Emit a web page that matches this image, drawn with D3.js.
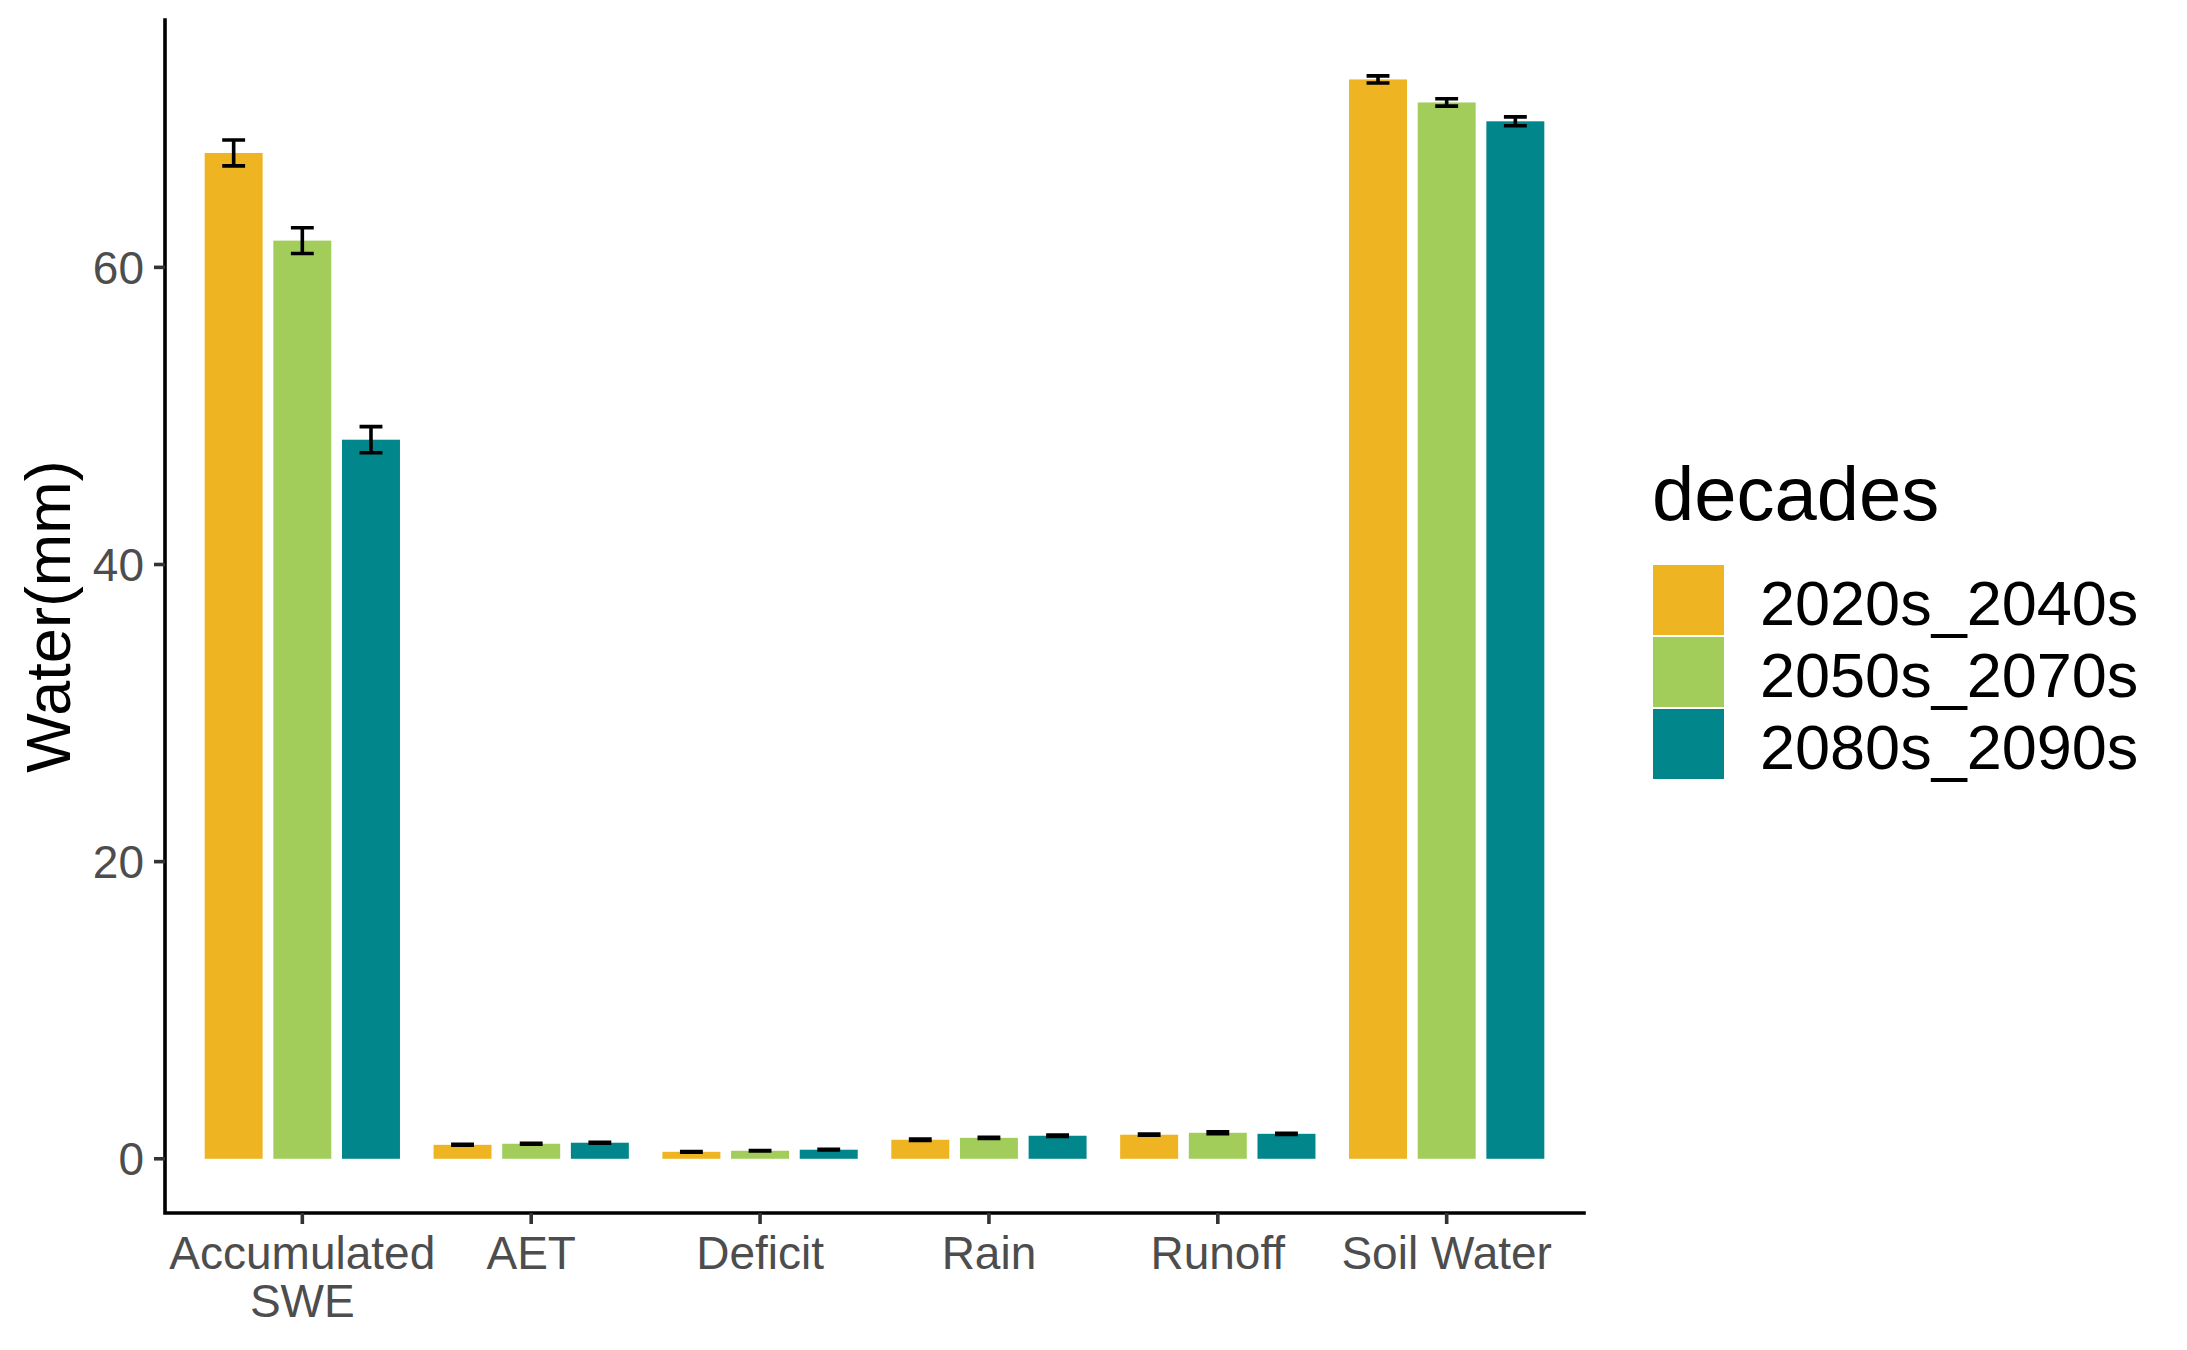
<!DOCTYPE html>
<html>
<head>
<meta charset="utf-8">
<script src="https://cdn.jsdelivr.net/npm/d3@7"></script>
<style>
  html, body { margin: 0; padding: 0; background: #ffffff; }
  svg { display: block; font-family: "Liberation Sans", Arial, sans-serif; }
</style>
</head>
<body>
<svg id="chart" width="2187" height="1350"></svg>
<script>
// ---- data ----
const categories = ["Accumulated\nSWE", "AET", "Deficit", "Rain", "Runoff", "Soil Water"];
const decades = ["2020s_2040s", "2050s_2070s", "2080s_2090s"];
const colors = ["#EEB422", "#A2CD5A", "#00868B"];
const means_2020s_2040s = [67.7, 0.94, 0.47, 1.28, 1.62, 72.65];
const means_2050s_2070s = [61.8, 1.01, 0.54, 1.41, 1.75, 71.10];
const means_2080s_2090s = [48.4, 1.08, 0.61, 1.55, 1.68, 69.83];
const err_2020s_2040s = [0.87, 0.03, 0.02, 0.04, 0.04, 0.24];
const err_2050s_2070s = [0.87, 0.03, 0.02, 0.04, 0.06, 0.25];
const err_2080s_2090s = [0.88, 0.03, 0.02, 0.04, 0.04, 0.30];
const yTicks = [0, 20, 40, 60];
const yTitle = "Water(mm)";
const legendTitle = "decades";

(function () {
const meansBy = [means_2020s_2040s, means_2050s_2070s, means_2080s_2090s];
const errsBy = [err_2020s_2040s, err_2050s_2070s, err_2080s_2090s];
const rows = [];
categories.forEach((c, ci) => {
  decades.forEach((d, di) => {
    rows.push({cat: c, dec: d, di: di, mean: meansBy[di][ci], err: errsBy[di][ci]});
  });
});

// ---- layout ----
const svg = d3.select("#chart");
const pLeft = 165, pRight = 1584, pTop = 20, pBottom = 1213;

const x = d3.scalePoint().domain(categories).range([pLeft, pRight]).padding(0.6);
const step = x.step();
const y = d3.scaleLinear().domain([-3.65, 76.65]).range([pBottom, pTop]);
const color = d3.scaleOrdinal().domain(decades).range(colors);

const dodge = 0.3 * step;
const barW = 0.2533 * step;
const capW = 0.1 * step;

// bars
svg.append("g").selectAll("rect").data(rows).join("rect")
  .attr("x", d => x(d.cat) + (d.di - 1) * dodge - barW / 2)
  .attr("width", barW)
  .attr("y", d => y(d.mean))
  .attr("height", d => y(0) - y(d.mean))
  .attr("fill", d => color(d.dec));

// error bars
const eg = svg.append("g").attr("stroke", "#000").attr("stroke-width", 3.6).attr("fill", "none");
rows.forEach(d => {
  const cx = x(d.cat) + (d.di - 1) * dodge;
  const y1 = y(d.mean + d.err), y2 = y(d.mean - d.err);
  eg.append("path").attr("d", `M${cx - capW/2},${y1}H${cx + capW/2}M${cx},${y1}V${y2}M${cx - capW/2},${y2}H${cx + capW/2}`);
});

// axes lines
svg.append("path")
  .attr("d", `M${pLeft},${pTop}V${pBottom}H${pRight}`)
  .attr("fill", "none").attr("stroke", "#000").attr("stroke-width", 3.6)
  .attr("stroke-linecap", "square");

// y ticks
const yAxis = svg.append("g");
yTicks.forEach(t => {
  yAxis.append("line").attr("x1", pLeft - 11).attr("x2", pLeft).attr("y1", y(t)).attr("y2", y(t))
    .attr("stroke", "#333333").attr("stroke-width", 3.6);
  yAxis.append("text").attr("x", pLeft - 21).attr("y", y(t) + 16.5)
    .attr("text-anchor", "end").attr("font-size", 46).attr("fill", "#4D4D4D").text(t);
});

// x ticks
const xAxis = svg.append("g");
categories.forEach(c => {
  xAxis.append("line").attr("x1", x(c)).attr("x2", x(c)).attr("y1", pBottom).attr("y2", pBottom + 11)
    .attr("stroke", "#333333").attr("stroke-width", 3.6);
  const lines = c.split("\n");
  const t = xAxis.append("text").attr("text-anchor", "middle").attr("font-size", 46).attr("fill", "#4D4D4D");
  lines.forEach((ln, i) => {
    t.append("tspan").attr("x", x(c)).attr("y", 1269 + i * 47.5).text(ln);
  });
});

// y title
svg.append("text")
  .attr("transform", `translate(70,${(pTop + pBottom) / 2}) rotate(-90)`)
  .attr("text-anchor", "middle").attr("font-size", 63).attr("fill", "#000").text(yTitle);

// legend
const lg = svg.append("g");
lg.append("text").attr("x", 1652).attr("y", 520).attr("font-size", 76).attr("fill", "#000").text(legendTitle);
decades.forEach((d, i) => {
  const ky = 565 + i * 72;
  lg.append("rect").attr("x", 1653).attr("y", ky).attr("width", 71).attr("height", 70).attr("fill", color(d));
  lg.append("text").attr("x", 1760).attr("y", ky + 60).attr("font-size", 63).attr("fill", "#000").text(d);
});
})();
</script>
</body>
</html>
